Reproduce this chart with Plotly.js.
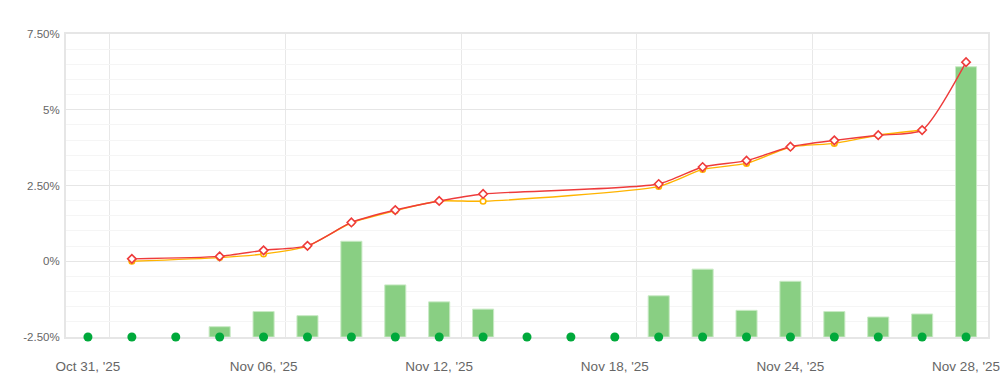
<!DOCTYPE html>
<html>
<head>
<meta charset="utf-8">
<script src="https://cdn.plot.ly/plotly-3.0.1.min.js"></script>
<style>
  html, body { margin: 0; padding: 0; background: #fff; }
  #chart { width: 1000px; height: 385px; }
</style>
</head>
<body>
<div id="chart"></div>
<script>
// Trading days (category positions 0..20)
const dates = ["Oct 31, '25","Nov 03, '25","Nov 04, '25","Nov 05, '25","Nov 06, '25","Nov 07, '25",
  "Nov 10, '25","Nov 11, '25","Nov 12, '25","Nov 13, '25","Nov 14, '25","Nov 17, '25","Nov 18, '25",
  "Nov 19, '25","Nov 20, '25","Nov 21, '25","Nov 24, '25","Nov 25, '25","Nov 26, '25","Nov 27, '25","Nov 28, '25"];

// Daily return bars (%), null where no bar
const dailyReturn = [null, null, null, 0.085, 0.21, 0.176, 0.79, 0.43, 0.29, 0.23, null, null, null,
  0.34, 0.56, 0.22, 0.46, 0.21, 0.165, 0.19, 2.23];

// Cumulative return, red line (%)
const cumRed = [null, 0.08, null, 0.16, 0.36, 0.51, 1.28, 1.69, 1.99, 2.22, null, null, null,
  2.55, 3.11, 3.32, 3.78, 3.99, 4.16, 4.33, 6.57];

// Cumulative return, orange line (%)
const cumOrange = [null, 0.0, null, 0.12, 0.24, 0.50, 1.27, 1.67, 1.99, 1.98, null, null, null,
  2.47, 3.03, 3.23, 3.77, 3.89, 4.16, 4.33, null];

// Day markers along the baseline
const dayMarker = [-2.5,-2.5,-2.5,-2.5,-2.5,-2.5,-2.5,-2.5,-2.5,-2.5,-2.5,-2.5,-2.5,-2.5,-2.5,-2.5,-2.5,-2.5,-2.5,-2.5,-2.5];

// Axis ticks
const xTickIdx = [0, 4, 8, 12, 16, 20];
const xTickText = ["Oct 31, '25", "Nov 06, '25", "Nov 12, '25", "Nov 18, '25", "Nov 24, '25", "Nov 28, '25"];
const yTickVals = [-2.5, 0, 2.5, 5, 7.5];
const yTickText = ["-2.50%", "0%", "2.50%", "5%", "7.50%"];

const idx = dates.map((d, i) => i);

const traces = [
  {
    type: 'bar', x: idx, y: dailyReturn, yaxis: 'y', width: 0.48,
    marker: { color: '#89cf83', line: { color: '#c9eac5', width: 1 } },
    hoverinfo: 'skip', showlegend: false
  },
  {
    type: 'scatter', mode: 'lines+markers', x: idx, y: cumOrange, yaxis: 'y2', connectgaps: true,
    line: { color: '#ffb400', width: 1.4, shape: 'spline', smoothing: 0.6 },
    marker: { symbol: 'circle', size: 5.5, color: '#ffffff', line: { color: '#ffb400', width: 1.6 } },
    showlegend: false
  },
  {
    type: 'scatter', mode: 'lines+markers', x: idx, y: cumRed, yaxis: 'y2', connectgaps: true,
    line: { color: '#ee3b3b', width: 1.4, shape: 'spline', smoothing: 0.6 },
    marker: { symbol: 'diamond', size: 6.5, color: '#ffffff', line: { color: '#ee3b3b', width: 1.6 } },
    showlegend: false
  },
  {
    type: 'scatter', mode: 'markers', x: idx, y: dayMarker, yaxis: 'y2', cliponaxis: false,
    marker: { symbol: 'circle', size: 9, color: '#00a93b' },
    showlegend: false
  }
];

const layout = {
  width: 1000, height: 385,
  margin: { l: 66, r: 12, t: 34, b: 48 },
  paper_bgcolor: '#ffffff', plot_bgcolor: '#ffffff',
  font: { family: 'Liberation Sans, Arial, sans-serif', color: '#666666' },
  showlegend: false,
  bargap: 0.5,
  xaxis: {
    range: [-0.5, 20.5],
    layer: 'below traces',
    tickmode: 'array', tickvals: xTickIdx, ticktext: xTickText,
    tickfont: { size: 13.5, color: '#666666' },
    ticks: 'outside', ticklen: 16, tickcolor: 'rgba(0,0,0,0)',
    showgrid: false, zeroline: false,
    showline: true, linecolor: '#e6e6e6', linewidth: 2, mirror: true,
    minor: { tickmode: 'linear', tick0: 0.5, dtick: 4, showgrid: true, gridcolor: '#e8e8e8', gridwidth: 1, ticks: '' }
  },
  yaxis: {
    range: [0, 2.5], showgrid: false, zeroline: false,
    showticklabels: false, showline: false, ticks: ''
  },
  yaxis2: {
    overlaying: 'y', side: 'left',
    range: [-2.5, 7.5],
    layer: 'below traces',
    tickmode: 'array', tickvals: yTickVals, ticktext: yTickText,
    tickfont: { size: 11.5, color: '#666666' },
    ticks: 'outside', ticklen: 2, tickcolor: 'rgba(0,0,0,0)',
    showgrid: true, gridcolor: '#e6e6e6', gridwidth: 1,
    zeroline: false,
    showline: true, linecolor: '#e6e6e6', linewidth: 2, mirror: true,
    minor: { tickmode: 'linear', tick0: 0, dtick: 0.5, showgrid: true, gridcolor: '#f5f5f5', gridwidth: 1, ticks: '' }
  }
};

Plotly.newPlot('chart', traces, layout, { displayModeBar: false, staticPlot: true });
</script>
</body>
</html>
